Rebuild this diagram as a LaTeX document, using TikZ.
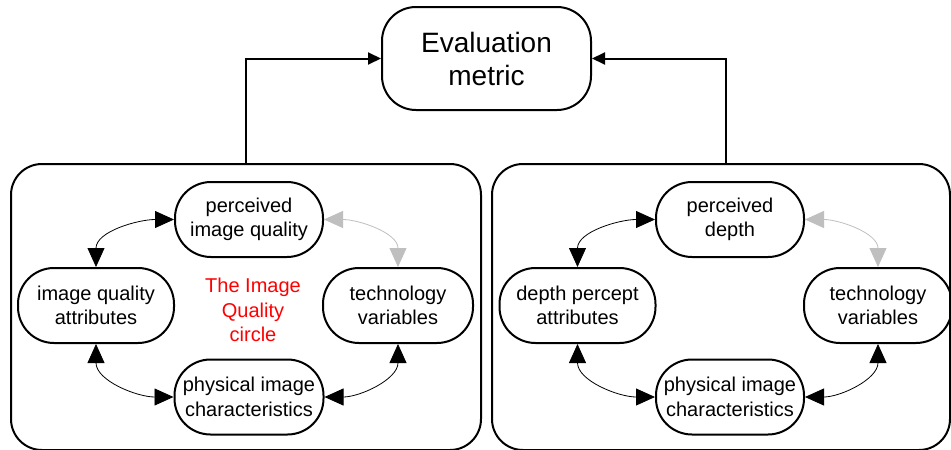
\documentclass[tikz,border=0pt]{standalone}
\usepackage{fontspec}
\setmainfont{Liberation Sans}
\usetikzlibrary{arrows.meta}
\definecolor{lgray}{HTML}{BFBFBF}
\begin{document}
\begin{tikzpicture}[x=1pt,y=-1pt,
  pill/.style={draw,line width=2pt,rounded corners=36pt,minimum height=75pt,align=center,
    font=\fontsize{20}{24.5}\selectfont,inner sep=0pt},
  outerbox/.style={draw,line width=2pt,rounded corners=31pt,inner sep=0pt},
  evalbox/.style={draw,line width=2pt,rounded corners=34pt,minimum width=209pt,minimum height=103pt,
    align=center,font=\fontsize{28}{33}\selectfont,inner sep=0pt},
  bigtip/.style={line width=0.8pt,{Triangle[length=19pt,width=17pt]}-{Triangle[length=19pt,width=17pt]}},
  toptip/.style={line width=2pt,-{Triangle[length=13pt,width=12pt]}}]
\useasboundingbox (0,0) rectangle (951,450);
\clip (0,0) rectangle (951,450);
\fill[white] (0,0) rectangle (951,450);
% top node
\node[evalbox] (eval) at (486.5,58.5) {Evaluation\\metric};
% outer boxes
\node[outerbox,minimum width=470pt,minimum height=286pt] (leftbox) at (246,307) {};
\node[outerbox,minimum width=458pt,minimum height=286pt] (rightbox) at (721,307) {};
% left circle
\node[pill,minimum width=148pt] (pq) at (249,219.5) {perceived\\image quality};
\node[pill,minimum width=156pt] (iqa) at (96,305.5) {image quality\\attributes};
\node[pill,minimum width=150pt] (tv1) at (398,305.5) {technology\\variables};
\node[pill,minimum width=149pt] (pic1) at (249,397) {physical image\\characteristics};
\node[align=center,text=red,font=\fontsize{20}{24.5}\selectfont] (iqc) at (253,310) {The Image\\Quality\\circle};
% right circle
\node[pill,minimum width=148pt] (pd) at (730,219.5) {perceived\\depth};
\node[pill,minimum width=156pt] (dpa) at (577.5,305.5) {depth percept\\attributes};
\node[pill,minimum width=148pt] (tv2) at (878,305.5) {technology\\variables};
\node[pill,minimum width=148pt] (pic2) at (730,397) {physical image\\characteristics};
% top connectors
\draw[toptip] (leftbox.north) |- (eval.west);
\draw[toptip] ([xshift=5pt]rightbox.north) |- (eval.east);
% left arrows
\draw[bigtip] (iqa.north) to[out=90,in=180] (pq.west);
\draw[bigtip] (iqa.south) to[out=-90,in=180] (pic1.west);
\draw[bigtip] (pic1.east) to[out=0,in=-90] (tv1.south);
\draw[bigtip,draw=lgray] (pq.east) to[out=0,in=90] (tv1.north);
% right arrows
\draw[bigtip] (dpa.north) to[out=90,in=180] (pd.west);
\draw[bigtip] (dpa.south) to[out=-90,in=180] (pic2.west);
\draw[bigtip] (pic2.east) to[out=0,in=-90] (tv2.south);
\draw[bigtip,draw=lgray] (pd.east) to[out=0,in=90] (tv2.north);
\end{tikzpicture}
\end{document}
